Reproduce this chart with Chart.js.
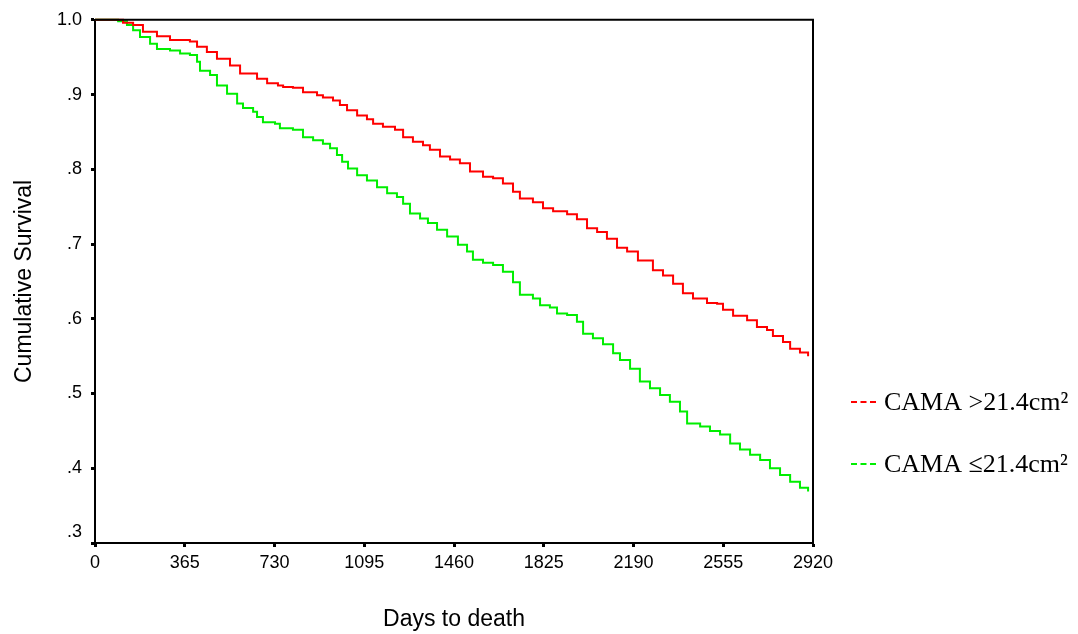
<!DOCTYPE html>
<html>
<head>
<meta charset="utf-8">
<script src="https://cdn.jsdelivr.net/npm/chart.js@4"></script>
<style>
  body { margin: 0; background: #fff; }
  #wrap { width: 1078px; height: 634px; }
</style>
</head>
<body>
<div id="wrap"><canvas id="km" width="1078" height="634"></canvas></div>
<script>
// survival curves (days, cumulative survival)
const redLabel = 'CAMA >21.4cm²'
const redDays = [0, 94, 114, 155, 195, 252, 305, 386, 415, 455, 496, 549, 590, 659, 700, 744, 765, 805, 846, 903,
    927, 968, 996, 1025, 1066, 1106, 1131, 1171, 1220, 1253, 1293, 1334, 1362, 1403, 1444, 1484, 1525, 1578, 1619, 1659,
    1700, 1728, 1781, 1822, 1863, 1920, 1960, 2001, 2042, 2082, 2123, 2164, 2208, 2269, 2310, 2351, 2391, 2432, 2489, 2530,
    2554, 2595, 2652, 2692, 2733, 2757, 2798, 2827, 2867, 2900]
const redSurv = [1, 1, 0.996, 0.993, 0.984, 0.978, 0.973, 0.971, 0.964, 0.957, 0.948, 0.939, 0.928, 0.921, 0.915, 0.912, 0.910, 0.909, 0.903, 0.899,
    0.896, 0.892, 0.886, 0.879, 0.872, 0.867, 0.861, 0.857, 0.853, 0.843, 0.837, 0.832, 0.826, 0.817, 0.813, 0.808, 0.797, 0.790, 0.788, 0.781,
    0.770, 0.761, 0.756, 0.748, 0.744, 0.740, 0.733, 0.721, 0.716, 0.707, 0.695, 0.690, 0.678, 0.665, 0.658, 0.647, 0.634, 0.627, 0.621, 0.620,
    0.612, 0.604, 0.598, 0.589, 0.585, 0.577, 0.569, 0.560, 0.555, 0.550]

const greenLabel = 'CAMA ≤21.4cm²'
const greenDays = [0, 94, 130, 155, 183, 224, 252, 305, 346, 386, 415, 427, 468, 496, 537, 578, 602, 643, 659, 683,
    732, 752, 805, 846, 887, 927, 956, 984, 1005, 1029, 1066, 1106, 1147, 1188, 1228, 1253, 1281, 1322, 1354, 1391,
    1432, 1476, 1513, 1537, 1578, 1619, 1659, 1700, 1728, 1781, 1810, 1850, 1879, 1920, 1960, 1985, 2025, 2066, 2107, 2135,
    2176, 2216, 2257, 2298, 2338, 2379, 2408, 2461, 2501, 2542, 2583, 2623, 2664, 2705, 2745, 2786, 2827, 2867, 2900]
const greenSurv = [1, 0.998, 0.993, 0.986, 0.977, 0.968, 0.961, 0.959, 0.955, 0.953, 0.944, 0.932, 0.926, 0.912, 0.901, 0.888, 0.882, 0.877, 0.870, 0.863,
    0.861, 0.855, 0.853, 0.843, 0.839, 0.834, 0.828, 0.819, 0.810, 0.801, 0.792, 0.785, 0.776, 0.768, 0.763, 0.754, 0.741, 0.734, 0.728, 0.719,
    0.710, 0.699, 0.690, 0.679, 0.675, 0.672, 0.663, 0.649, 0.632, 0.627, 0.618, 0.615, 0.607, 0.605, 0.596, 0.580, 0.574, 0.566, 0.554, 0.545,
    0.533, 0.516, 0.507, 0.498, 0.489, 0.476, 0.460, 0.456, 0.450, 0.445, 0.433, 0.425, 0.418, 0.411, 0.400, 0.391, 0.382, 0.374, 0.369]

// axis ticks
const xMin = 0, xMax = 2920, xStep = 365
const yMin = 0.3, yMax = 1.0, yStep = 0.1

function toPoints(days, surv) {
    return days.map((d, i) => ({x: d, y: surv[i]}))
}

const sansFont = "'Liberation Sans', Arial, sans-serif"
const serifFont = "'Liberation Serif', 'Times New Roman', serif"

// box round the plot + dashed legend on the right
const frameAndLegend = {
    id: 'frameAndLegend',
    afterDatasetsDraw(chart) {
        const {ctx, chartArea} = chart
        ctx.save()
        ctx.strokeStyle = '#000'
        ctx.lineWidth = 2
        ctx.beginPath()
        ctx.moveTo(chartArea.left, chartArea.top)
        ctx.lineTo(chartArea.right, chartArea.top)
        ctx.lineTo(chartArea.right, chartArea.bottom)
        ctx.stroke()

        const rows = [402, 464]
        chart.data.datasets.forEach((ds, i) => {
            const y = rows[i]
            ctx.strokeStyle = ds.borderColor
            ctx.lineWidth = 2
            ctx.setLineDash([6, 3.5])
            ctx.beginPath()
            ctx.moveTo(851, y)
            ctx.lineTo(876, y)
            ctx.stroke()
            ctx.setLineDash([])
            ctx.fillStyle = '#000'
            ctx.font = '26px ' + serifFont
            ctx.textBaseline = 'alphabetic'
            ctx.textAlign = 'left'
            ctx.fillText(ds.label, 884, y + 8)
        })
        ctx.restore()
    }
}

const ctx = document.getElementById('km')
const myChart = new Chart(ctx, {
    type: 'line',
    data: {
        datasets: [{
            label: redLabel,
            data: toPoints(redDays, redSurv),
            borderColor: '#ff0000',
            borderWidth: 2,
            stepped: true,
            pointRadius: 0,
            clip: false
        }, {
            label: greenLabel,
            data: toPoints(greenDays, greenSurv),
            borderColor: '#00ee00',
            borderWidth: 2,
            stepped: true,
            pointRadius: 0,
            clip: false
        }]
    },
    options: {
        responsive: false,
        animation: false,
        layout: {
            padding: {top: 19.5, right: 265, left: 0, bottom: 0}
        },
        plugins: {
            legend: {display: false},
            tooltip: {enabled: false}
        },
        scales: {
            x: {
                type: 'linear',
                min: xMin,
                max: xMax,
                afterFit: scale => { scale.height = 91 },
                ticks: {
                    stepSize: xStep,
                    color: '#000',
                    padding: 5,
                    maxRotation: 0,
                    font: {family: sansFont, size: 18},
                    callback: value => String(value)
                },
                grid: {drawOnChartArea: false, color: '#000', tickLength: 4, tickWidth: 3},
                border: {color: '#000', width: 2},
                title: {
                    display: true,
                    text: 'Days to death',
                    color: '#000',
                    font: {family: sansFont, size: 23},
                    padding: {top: 0, bottom: 1}
                }
            },
            y: {
                min: yMin,
                max: yMax,
                afterFit: scale => { scale.width = 95 },
                ticks: {
                    stepSize: yStep,
                    color: '#000',
                    padding: 9,
                    font: {family: sansFont, size: 18},
                    callback: value => {
                        if (Math.abs(value - 1) < 1e-6) return '1.0'
                        const s = value.toFixed(1).replace(/^0/, '')
                        // the lowest label sits a little above its tick
                        return Math.abs(value - yMin) < 1e-6 ? [s, ''] : s
                    }
                },
                grid: {drawOnChartArea: false, color: '#000', tickLength: 4, tickWidth: 3},
                border: {color: '#000', width: 2},
                title: {
                    display: true,
                    text: 'Cumulative Survival',
                    color: '#000',
                    font: {family: sansFont, size: 23},
                    padding: {top: 11, bottom: 0}
                }
            }
        }
    },
    plugins: [frameAndLegend]
})
</script>
</body>
</html>
